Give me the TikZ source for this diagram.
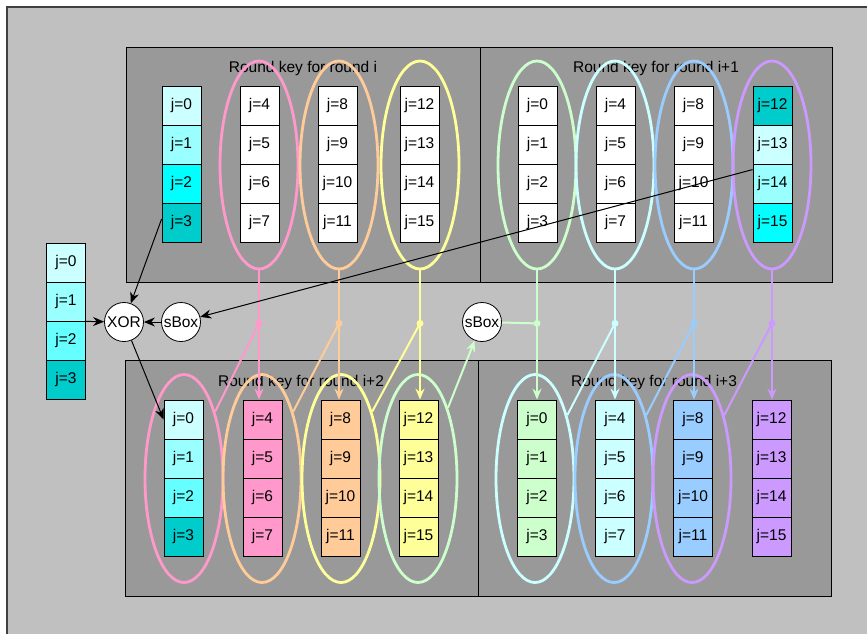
\documentclass[tikz,border=0pt]{standalone}
\usepackage{fontspec}
\setmainfont{Liberation Sans}
\usetikzlibrary{shapes.geometric,arrows.meta,calc}

\definecolor{panel}{HTML}{C0C0C0}
\definecolor{boxgray}{HTML}{999999}
\definecolor{cyanA}{HTML}{CCFFFF}
\definecolor{cyanB}{HTML}{99FFFF}
\definecolor{cyanC}{HTML}{66FFFF}
\definecolor{cyanD}{HTML}{00FFFF}
\definecolor{tealC}{HTML}{00CCCC}
\definecolor{pinkC}{HTML}{FF99CC}
\definecolor{orangeC}{HTML}{FFCC99}
\definecolor{yellowC}{HTML}{FFFF99}
\definecolor{greenC}{HTML}{CCFFCC}
\definecolor{iceC}{HTML}{CCFFFF}
\definecolor{blueC}{HTML}{99CCFF}
\definecolor{purpleC}{HTML}{CC99FF}

% one column of four key words: prefix, first j, x centre, top y, fills
\newcommand\keycol[5]{%
  \foreach \c [count=\n from 0] in {#5} {%
    \pgfmathtruncatemacro\jj{#2+\n}%
    \node[cell,fill=\c] (#1\jj) at (#3,{#4+19.5+39*\n}) {j=\jj};
  }}

\begin{document}
\begin{tikzpicture}[x=1pt,y=-1pt,
  font=\fontsize{15.5}{18}\selectfont,
  cell/.style={draw=black,line width=0.8pt,minimum width=39pt,minimum height=39pt,inner sep=0pt},
  keybox/.style={draw=black,line width=1pt,fill=boxgray},
  ring/.style={ellipse,draw=#1,line width=2.8pt,minimum width=78pt,minimum height=208pt,inner sep=0pt},
  op/.style={circle,draw=black,fill=white,line width=0.8pt,minimum size=39pt,inner sep=0pt},
  link/.style={draw=#1,line width=2pt},
  linkarrow/.style={draw=#1,line width=2pt,-{Stealth[length=11pt,width=9pt]}},
  jdot/.style={circle,fill=#1,inner sep=0pt,minimum size=7pt},
  blackarrow/.style={draw=black,line width=1pt,-{Stealth[length=11pt,width=9pt]}}]

\useasboundingbox (0,0) rectangle (867,633);
\fill[white] (0,0) rectangle (867,633);
\begin{scope}
  \clip (0,0) rectangle (867,633);
  \fill[panel] (7,7) rectangle (900,700);
  \draw[line width=1.3pt,black!75] (7,700) -- (7,7) -- (900,7);
\end{scope}

% four round-key panels
\draw[keybox] (126,47) rectangle (480,282);
\draw[keybox] (480,47) rectangle (832,282);
\draw[keybox] (125,360) rectangle (478,596);
\draw[keybox] (478,360) rectangle (831,596);

\node (titleA) at (303,68) {Round key for round i};
\node (titleB) at (656,68) {Round key for round i+1};
\node (titleC) at (301,382) {Round key for round i+2};
\node (titleD) at (654,382) {Round key for round i+3};

% groups of words
\node[ring=pinkC]   (tPink)   at (259,165) {};
\node[ring=orangeC] (tOrange) at (339,165) {};
\node[ring=yellowC] (tYellow) at (420,165) {};
\node[ring=greenC]  (tGreen)  at (537,165) {};
\node[ring=iceC]    (tIce)    at (615,165) {};
\node[ring=blueC]   (tBlue)   at (694,165) {};
\node[ring=purpleC] (tPurple) at (772,165) {};

\node[ring=pinkC]   (bPink)   at (184,478.5) {};
\node[ring=orangeC] (bOrange) at (262,478.5) {};
\node[ring=yellowC] (bYellow) at (341,478.5) {};
\node[ring=greenC]  (bGreen)  at (418,478.5) {};
\node[ring=iceC]    (bIce)    at (535,478.5) {};
\node[ring=blueC]   (bBlue)   at (614,478.5) {};
\node[ring=purpleC] (bPurple) at (692,478.5) {};

% key words
\keycol{LC}{0}{66}{243}{cyanA,cyanB,cyanC,tealC}

\keycol{TL}{0}{181.5}{86}{cyanA,cyanB,cyanD,tealC}
\keycol{TL}{4}{259.5}{86}{white,white,white,white}
\keycol{TL}{8}{337.5}{86}{white,white,white,white}
\keycol{TL}{12}{419.5}{86}{white,white,white,white}

\keycol{TR}{0}{537.5}{86}{white,white,white,white}
\keycol{TR}{4}{615.5}{86}{white,white,white,white}
\keycol{TR}{8}{693.5}{86}{white,white,white,white}
\keycol{TR}{12}{772.5}{86}{tealC,cyanA,cyanB,cyanD}

\keycol{BL}{0}{183.5}{400}{cyanA,cyanB,cyanC,tealC}
\keycol{BL}{4}{262.5}{400}{pinkC,pinkC,pinkC,pinkC}
\keycol{BL}{8}{340.5}{400}{orangeC,orangeC,orangeC,orangeC}
\keycol{BL}{12}{418.5}{400}{yellowC,yellowC,yellowC,yellowC}

\keycol{BR}{0}{537}{400}{greenC,greenC,greenC,greenC}
\keycol{BR}{4}{615}{400}{iceC,iceC,iceC,iceC}
\keycol{BR}{8}{693}{400}{blueC,blueC,blueC,blueC}
\keycol{BR}{12}{771.5}{400}{purpleC,purpleC,purpleC,purpleC}

% operators
\node[op] (xor) at (124,322) {XOR};
\node[op] (sboxA) at (181,322) {sBox};
\node[op] (sboxB) at (482,322) {sBox};

% branch points
\coordinate (dPink)   at ($(tPink.south)+(0,53)$);
\coordinate (dOrange) at ($(tOrange.south)+(0,53)$);
\coordinate (dYellow) at ($(tYellow.south)+(0,53)$);
\coordinate (dGreen)  at ($(tGreen.south)+(0,53)$);
\coordinate (dIce)    at ($(tIce.south)+(0,53)$);
\coordinate (dBlue)   at ($(tBlue.south)+(0,53)$);
\coordinate (dPurple) at ($(tPurple.south)+(0,53)$);

% coloured word routes
\draw[link=pinkC] (tPink.south) -- (dPink);
\draw[linkarrow=pinkC] (dPink) -- (dPink |- BL4.north);
\draw[link=pinkC] (dPink) -- (bPink.65);

\draw[link=orangeC] (tOrange.south) -- (dOrange);
\draw[linkarrow=orangeC] (dOrange) -- (dOrange |- BL8.north);
\draw[link=orangeC] (dOrange) -- (bOrange.65);

\draw[link=yellowC] (tYellow.south) -- (dYellow);
\draw[linkarrow=yellowC] (dYellow) -- (dYellow |- BL12.north);
\draw[link=yellowC] (dYellow) -- (bYellow.65);

\draw[link=greenC] (tGreen.south) -- (dGreen);
\draw[linkarrow=greenC] (dGreen) -- (dGreen |- BR0.north);
\draw[link=greenC] (dGreen) -- (sboxB);
\draw[linkarrow=greenC] (bGreen.67) -- (sboxB);

\draw[link=iceC] (tIce.south) -- (dIce);
\draw[linkarrow=iceC] (dIce) -- (dIce |- BR4.north);
\draw[link=iceC] (dIce) -- (bIce.63);

\draw[link=blueC] (tBlue.south) -- (dBlue);
\draw[linkarrow=blueC] (dBlue) -- (dBlue |- BR8.north);
\draw[link=blueC] (dBlue) -- (bBlue.63);

\draw[link=purpleC] (tPurple.south) -- (dPurple);
\draw[linkarrow=purpleC] (dPurple) -- (dPurple |- BR12.north);
\draw[link=purpleC] (dPurple) -- (bPurple.63);

\node[jdot=pinkC]   at (dPink) {};
\node[jdot=orangeC] at (dOrange) {};
\node[jdot=yellowC] at (dYellow) {};
\node[jdot=greenC]  at (dGreen) {};
\node[jdot=iceC]    at (dIce) {};
\node[jdot=blueC]   at (dBlue) {};
\node[jdot=purpleC] at (dPurple) {};

% key schedule core
\draw[blackarrow] (TL3.170) -- (xor);
\draw[blackarrow] (LC1.south east) -- (xor);
\draw[blackarrow] (sboxA) -- (xor);
\draw[blackarrow] (TR14.145) -- (sboxA);
\draw[blackarrow] (xor) -- (BL0.west);
\end{tikzpicture}
\end{document}
